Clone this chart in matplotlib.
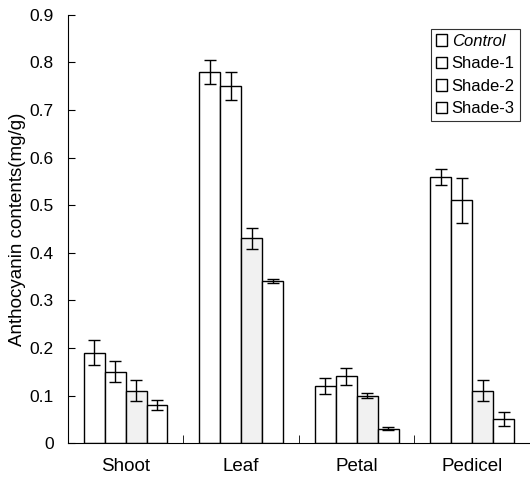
import numpy as np
import matplotlib
matplotlib.use('Agg')
import matplotlib.pyplot as plt

plt.rcParams['font.family'] = ['Liberation Sans', 'DejaVu Sans']

# data
organs = ['Shoot', 'Leaf', 'Petal', 'Pedicel']
treatments = ['Control', 'Shade-1', 'Shade-2', 'Shade-3']
control = [0.19, 0.78, 0.12, 0.56]
shade1 = [0.15, 0.75, 0.14, 0.51]
shade2 = [0.11, 0.43, 0.10, 0.11]
shade3 = [0.08, 0.34, 0.03, 0.05]
control_err = [0.026, 0.026, 0.017, 0.017]
shade1_err = [0.022, 0.030, 0.018, 0.048]
shade2_err = [0.022, 0.022, 0.005, 0.022]
shade3_err = [0.010, 0.004, 0.003, 0.015]

values = [control, shade1, shade2, shade3]
errors = [control_err, shade1_err, shade2_err, shade3_err]
fills = ['white', 'white', '#f1f1f1', 'white']

fig = plt.figure(figsize=(5.3, 4.78), dpi=100)
ax = fig.add_axes([0.128, 0.073, 0.872, 0.896])

x = np.arange(len(organs))
w = 0.181
for i in range(4):
    ax.bar(x + (i - 1.5) * w, values[i], w, color=fills[i], edgecolor='black',
           linewidth=1.0, yerr=errors[i], capsize=4,
           error_kw={'elinewidth': 1.0, 'capthick': 1.0, 'ecolor': 'black'},
           label=treatments[i])

ax.set_xlim(-0.5, 3.5)
ax.set_ylim(0, 0.9)
ax.set_yticks(np.arange(0, 0.91, 0.1))
ax.set_yticklabels(['0', '0.1', '0.2', '0.3', '0.4', '0.5', '0.6', '0.7', '0.8', '0.9'])
ax.set_xticks(x)
ax.set_xticklabels(organs, fontsize=13.5)
ax.tick_params(axis='x', length=0, pad=11)
ax.set_xticks([0.5, 1.5, 2.5], minor=True)
ax.tick_params(axis='x', which='minor', direction='in', length=6)
ax.tick_params(axis='y', direction='in', length=5, labelsize=12.5, pad=10)
ax.spines['top'].set_visible(False)
ax.spines['right'].set_visible(False)
ax.set_ylabel('Anthocyanin contents(mg/g)', fontsize=13.5, labelpad=3)

leg = ax.legend(loc='upper right', bbox_to_anchor=(0.985, 0.975), fontsize=12,
                frameon=True, fancybox=False, edgecolor='black',
                handlelength=0.7, handleheight=0.7, handletextpad=0.25,
                borderpad=0.3, labelspacing=0.45, borderaxespad=0.2)
leg.get_frame().set_linewidth(0.8)
for h in leg.legend_handles:
    h.set_facecolor('white')
leg.get_texts()[0].set_style('italic')

fig.savefig('out.png', dpi=100)
